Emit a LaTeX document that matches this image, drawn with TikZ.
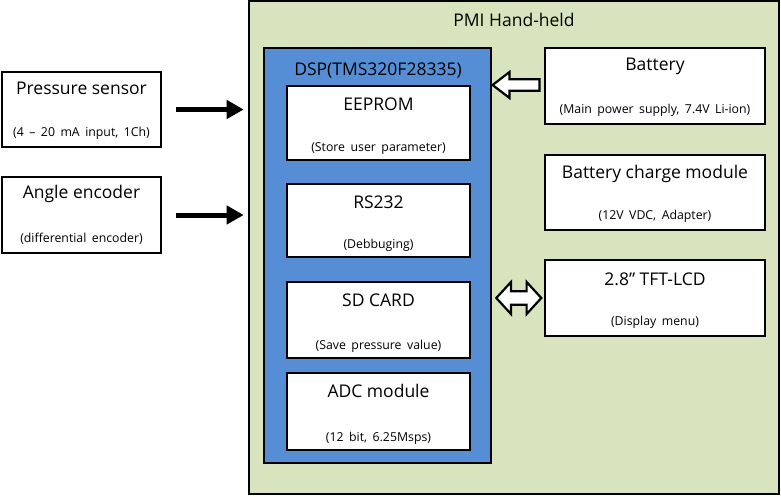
\documentclass[tikz,border=0pt]{standalone}
\usepackage{fontspec}
\setmainfont{Open Sans}
\usetikzlibrary{arrows.meta,shapes.arrows,calc}
\definecolor{panelgreen}{HTML}{D7E4BD}
\definecolor{dspblue}{HTML}{558ED5}
\newcommand\subsize{\fontsize{12.3}{14}\selectfont\spaceskip=5.5pt plus 1pt\relax}
\begin{document}
\begin{tikzpicture}[x=1pt,y=-1pt,
  blk/.style={draw, fill=white, line width=2.4pt, inner sep=0pt},
  ttl/.style={font=\fontsize{17.5}{19}\selectfont},
  sub/.style={font=\subsize},
  feed/.style={line width=5pt, -{Triangle[length=17pt,width=18pt]}, shorten <=14pt, shorten >=19pt},
  hollow/.style={draw, fill=white, line width=2.2pt, inner sep=4.5pt}]
  \useasboundingbox (0,0) rectangle (781,496);

  % hand-held frame and DSP
  \node[draw, line width=2.6pt, fill=panelgreen, minimum width=530pt, minimum height=493pt] (pmi) at (514,247.5) {};
  \node[ttl] (pmi-t) at ($(pmi.north)+(0,20)$) {PMI Hand-held};
  \node[draw, line width=2.6pt, fill=dspblue, minimum width=227pt, minimum height=415pt] (dsp) at (377.5,255.5) {};
  \node[ttl] (dsp-t) at (378,71) {DSP(TMS320F28335)};

  % blocks inside the DSP
  \foreach \n/\y/\h/\t/\s in {eep/123/74/EEPROM/{(Store user parameter)},
                              rs/220.5/73/RS232/{(Debbuging)},
                              sd/320/76/SD CARD/{(Save pressure value)},
                              adc/411.5/77/ADC module/{(12 bit, 6.25Msps)}}{
    \node[blk, minimum width=183pt, minimum height=\h pt] (\n) at (378.5,\y) {};
    \node[ttl] (\n-t) at ($(\n.north)+(0,19)$) {\t};
    \node[sub] (\n-s) at ($(\n.south)+(0,-13)$) {\s};
  }

  % sensors
  \foreach \n/\y/\h/\t/\s in {ps/109.5/75/Pressure sensor/{(4 – 20 mA input, 1Ch)},
                              ae/215/76/Angle encoder/{(differential encoder)}}{
    \node[blk, minimum width=159pt, minimum height=\h pt] (\n) at (81.5,\y) {};
    \node[ttl] (\n-t) at ($(\n.north)+(0,18)$) {\t};
    \node[sub] (\n-s) at ($(\n.south)+(0,-15)$) {\s};
    \draw[feed] (\n.east) -- (\n.east -| dsp.west);
  }

  % power and display
  \foreach \n/\y/\h/\t/\s in {bat/86/76/Battery/{(Main power supply, 7.4V Li-ion)},
                              chg/192.5/75/Battery charge module/{(12V VDC, Adapter)},
                              lcd/298/76/2.8” TFT-LCD/{(Display menu)}}{
    \node[blk, minimum width=220pt, minimum height=\h pt] (\n) at (655,\y) {};
    \node[ttl] (\n-t) at ($(\n.north)+(0,20)$) {\t};
    \node[sub] (\n-s) at ($(\n.south)+(0,-15)$) {\s};
  }

  \node[hollow, single arrow, shape border rotate=180, minimum width=26pt, minimum height=47pt,
        single arrow tip angle=75] (pwr) at ($(bat.west)+(-24,-1)$) {};
  \node[hollow, double arrow, inner sep=4pt, minimum width=32pt, minimum height=45pt,
        double arrow tip angle=95] (disp) at ($(lcd.west)+(-25,0)$) {};
\end{tikzpicture}
\end{document}
